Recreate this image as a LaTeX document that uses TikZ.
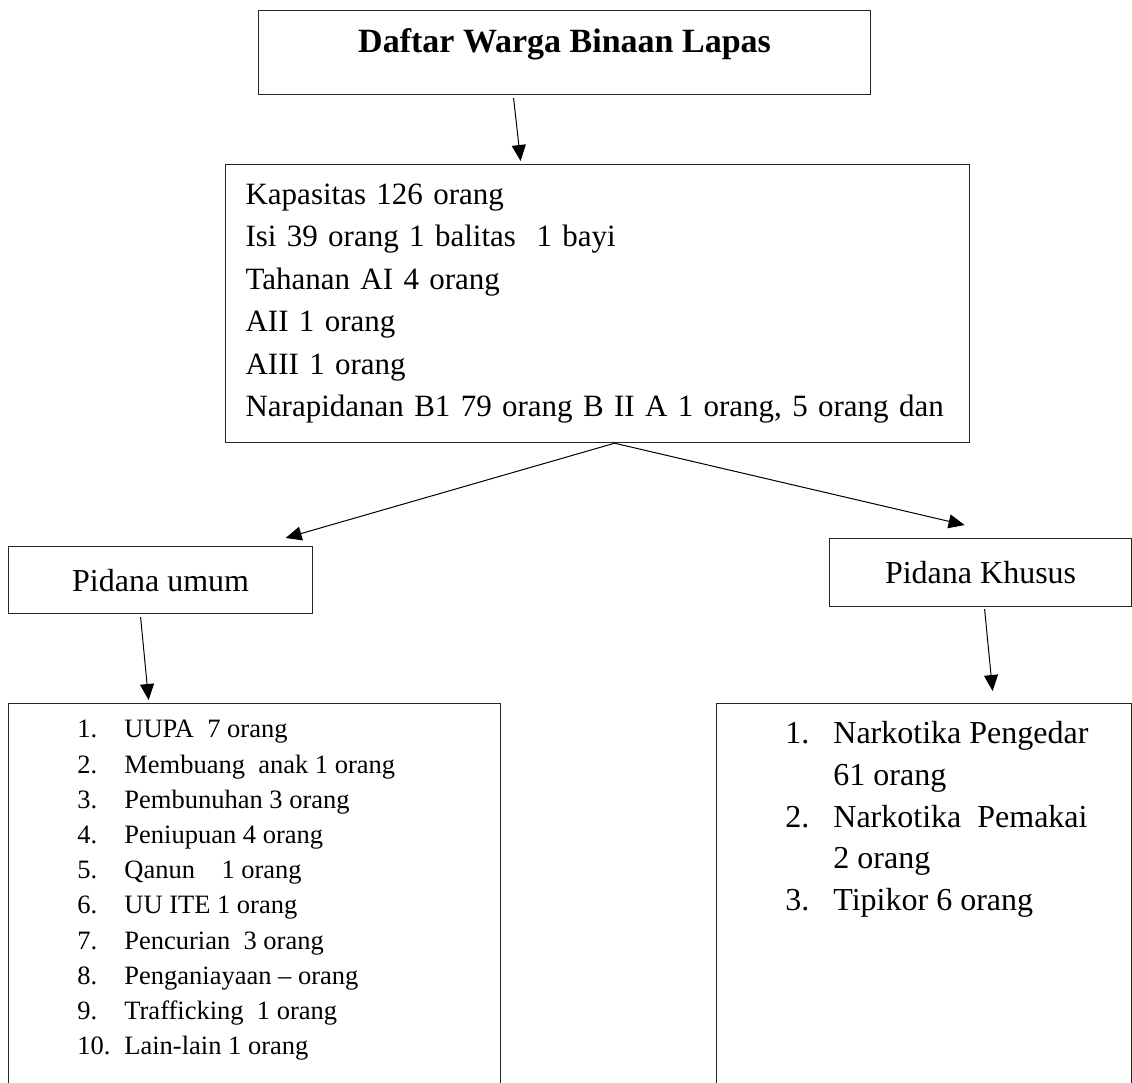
\documentclass[tikz,border=0pt]{standalone}
\usepackage{fontspec}
\setmainfont{Liberation Serif}
\usepackage{tikz}
\usetikzlibrary{arrows.meta}
\usetikzlibrary{calc}
\usetikzlibrary{positioning}

\begin{document}
\begin{tikzpicture}[x=0.5pt, y=-0.5pt, >={Triangle[length=8pt,width=7pt]},
  kotak/.style={draw, black!85, line width=0.6pt, text=black, anchor=north west, inner sep=0pt},
  daftar/.style={align=left, anchor=north west, inner sep=0pt},
  panah/.style={->, black, line width=0.5pt}]
\useasboundingbox (0,0) rectangle (1132,1083);
\clip (0,0) rectangle (1132,1083);
%kotak atas
\node[kotak, minimum width=306pt, text height=21pt, text depth=21pt, font=\fontsize{17}{20}\selectfont\bfseries] (judul) at (258,10) {Daftar Warga Binaan Lapas};
\node[kotak, text width=352pt, inner xsep=10pt, minimum height=139pt, align=left, font=\fontsize{15.5}{21.25}\selectfont] (isi) at (225,164)
  {Kapasitas 126 orang\\ Isi 39 orang 1 balitas~~1 bayi\\ Tahanan AI 4 orang\\ AII 1 orang\\ AIII 1 orang\\ Narapidanan B1 79 orang B II A 1 orang, 5 orang dan};
%pidana
\node[kotak, minimum width=152pt, minimum height=33.5pt, font=\fontsize{16}{19}\selectfont] (umum) at (8,546) {Pidana umum};
\node[kotak, minimum width=151pt, minimum height=34pt, font=\fontsize{16}{19}\selectfont] (khusus) at (829,538) {Pidana Khusus};
%kotak bawah (terpotong)
\node[kotak, minimum width=246pt, minimum height=200pt] (umumlist) at (8,703) {};
\node[kotak, minimum width=207.5pt, minimum height=200pt] (khususlist) at (716,703) {};
\node[daftar, font=\fontsize{13.25}{17.6}\selectfont] (umumisi) at (77,720)
  {\makebox[23.5pt][l]{1.}UUPA~~7 orang\\
   \makebox[23.5pt][l]{2.}Membuang~~anak 1 orang\\
   \makebox[23.5pt][l]{3.}Pembunuhan 3 orang\\
   \makebox[23.5pt][l]{4.}Peniupuan 4 orang\\
   \makebox[23.5pt][l]{5.}Qanun~~~~1 orang\\
   \makebox[23.5pt][l]{6.}UU ITE 1 orang\\
   \makebox[23.5pt][l]{7.}Pencurian~~3 orang\\
   \makebox[23.5pt][l]{8.}Penganiayaan -- orang\\
   \makebox[23.5pt][l]{9.}Trafficking~~1 orang\\
   \makebox[23.5pt][l]{10.}Lain-lain 1 orang};
\node[daftar, font=\fontsize{16}{20.85}\selectfont] (khususisi) at (785,721)
  {\makebox[24pt][l]{1.}Narkotika Pengedar\\
   \hspace*{24pt}61 orang\\
   \makebox[24pt][l]{2.}Narkotika~~Pemakai\\
   \hspace*{24pt}2 orang\\
   \makebox[24pt][l]{3.}Tipikor 6 orang};
%panah
\draw[panah] ($(judul.south)+(-51,3)$) -- ($(isi.north)+(-77,-3)$);
\draw[panah] ($(isi.south)+(17,0)$) -- ($(umum.north)+(125,-8)$);
\draw[panah] ($(isi.south)+(17,0)$) -- ($(khusus.north)+(-16,-13)$);
\draw[panah] ($(umum.south)+(-20,3)$) -- ($(umumlist.north)+(-106,-3)$);
\draw[panah] ($(khusus.south)+(4,2)$) -- ($(khususlist.north)+(68.5,-12)$);
\end{tikzpicture}
\end{document}
